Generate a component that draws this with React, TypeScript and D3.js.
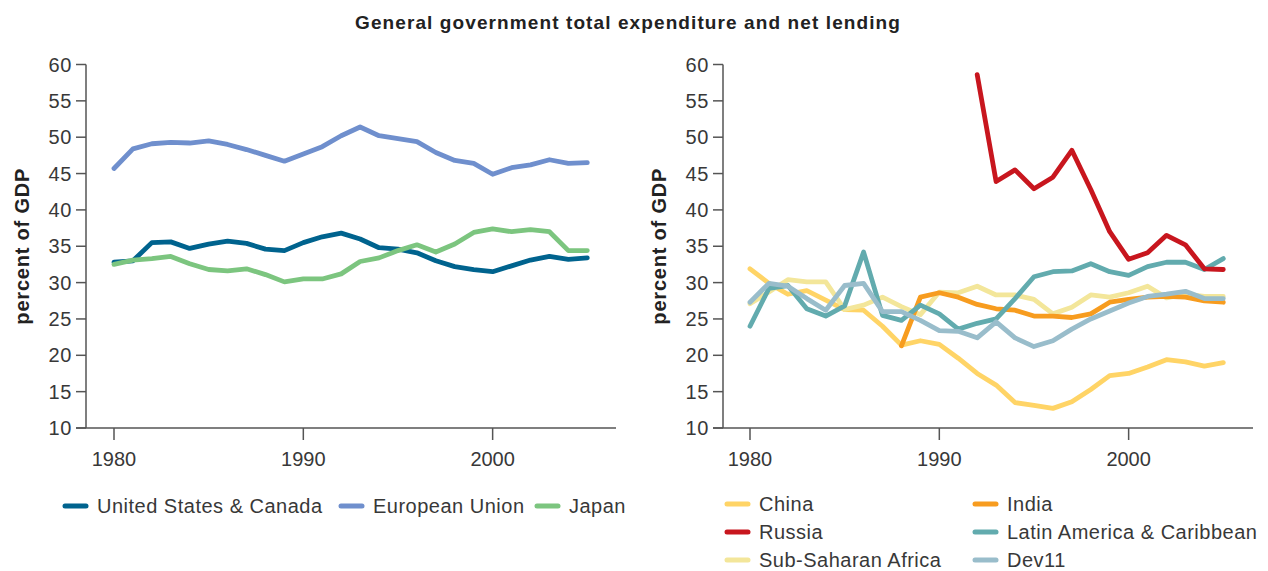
import React from "react";
import * as d3 from "d3";

const years = d3.range(1980, 2006);
const yTicks = [10, 15, 20, 25, 30, 35, 40, 45, 50, 55, 60];
const xTicks = [1980, 1990, 2000];

const usCanada = [32.8, 33.0, 35.5, 35.6, 34.7, 35.3, 35.7, 35.4, 34.6, 34.4, 35.5, 36.3, 36.8, 36.0, 34.8, 34.6, 34.1, 33.0, 32.2, 31.8, 31.5, 32.3, 33.1, 33.6, 33.2, 33.4];
const europeanUnion = [45.7, 48.4, 49.1, 49.3, 49.2, 49.5, 49.0, 48.3, 47.5, 46.7, 47.7, 48.7, 50.2, 51.4, 50.2, 49.8, 49.4, 47.9, 46.8, 46.4, 44.9, 45.8, 46.2, 46.9, 46.4, 46.5];
const japan = [32.5, 33.1, 33.3, 33.6, 32.6, 31.8, 31.6, 31.9, 31.1, 30.1, 30.5, 30.5, 31.2, 32.9, 33.4, 34.4, 35.2, 34.2, 35.3, 36.9, 37.4, 37.0, 37.3, 37.0, 34.4, 34.4];

const china = [31.9, 29.9, 28.4, 28.9, 27.6, 26.3, 26.2, 24.0, 21.4, 22.0, 21.5, 19.6, 17.5, 15.9, 13.5, 13.1, 12.7, 13.6, 15.3, 17.2, 17.5, 18.4, 19.4, 19.1, 18.5, 19.0];
const india = [null, null, null, null, null, null, null, null, 21.3, 28.0, 28.6, 28.0, 27.0, 26.4, 26.2, 25.4, 25.4, 25.2, 25.7, 27.3, 27.7, 28.0, 28.1, 28.0, 27.5, 27.3];
const russia = [null, null, null, null, null, null, null, null, null, null, null, null, 58.6, 43.9, 45.5, 42.9, 44.5, 48.2, 42.8, 37.0, 33.2, 34.1, 36.5, 35.2, 31.9, 31.8];
const latinAmerica = [24.0, 29.2, 29.6, 26.4, 25.4, 26.8, 34.2, 25.5, 24.8, 26.9, 25.7, 23.6, 24.4, 25.0, 27.8, 30.8, 31.5, 31.6, 32.6, 31.5, 31.0, 32.2, 32.8, 32.8, 31.8, 33.3];
const subSaharanAfrica = [27.1, 28.7, 30.4, 30.1, 30.1, 26.3, 26.9, 28.0, 26.7, 25.6, 28.7, 28.6, 29.5, 28.3, 28.3, 27.7, 25.7, 26.6, 28.3, 28.0, 28.6, 29.5, 27.9, 28.4, 28.1, 28.1];
const dev11 = [27.3, 29.9, 29.5, 27.8, 26.2, 29.6, 29.9, 26.0, 26.0, 24.8, 23.4, 23.3, 22.4, 24.6, 22.4, 21.2, 22.0, 23.6, 25.0, 26.1, 27.2, 28.1, 28.4, 28.8, 27.8, 27.8];

type Series = { name: string; color: string; values: (number | null)[] };

const leftSeries: Series[] = [
  { name: "United States & Canada", color: "#00638e", values: usCanada },
  { name: "European Union", color: "#6f8fcd", values: europeanUnion },
  { name: "Japan", color: "#7cc57f", values: japan },
];

const rightSeries: Series[] = [
  { name: "China", color: "#ffd466", values: china },
  { name: "Sub-Saharan Africa", color: "#f3e69a", values: subSaharanAfrica },
  { name: "India", color: "#f79c1f", values: india },
  { name: "Latin America & Caribbean", color: "#62abae", values: latinAmerica },
  { name: "Dev11", color: "#99bdcb", values: dev11 },
  { name: "Russia", color: "#c8161e", values: russia },
];

const rightLegendOrder = ["China", "India", "Russia", "Latin America & Caribbean", "Sub-Saharan Africa", "Dev11"];

const FONT = "'Liberation Sans', Arial, Helvetica, sans-serif";
const TEXT = "#383838";
const AXIS = "#555";

function Panel({ x0, axisX, series }: { x0: number; axisX: number; series: Series[] }) {
  const x = d3.scaleLinear().domain([1980, 2005]).range([x0, x0 + 473.3]);
  const y = d3.scaleLinear().domain([10, 60]).range([428, 64.5]);
  const line = d3
    .line<[number, number | null]>()
    .defined((d) => d[1] != null)
    .x((d) => x(d[0]))
    .y((d) => y(d[1] as number));
  return (
    <g>
      {yTicks.map((t) => (
        <g key={t}>
          <line x1={axisX - 10} x2={axisX} y1={y(t)} y2={y(t)} stroke={AXIS} strokeWidth={1.5} />
          <text x={axisX - 14} y={y(t)} dy="0.35em" textAnchor="end" fontSize={20} letterSpacing={0.6} fill={TEXT} fontFamily={FONT}>
            {t}
          </text>
        </g>
      ))}
      <line x1={axisX} x2={axisX} y1={y(60)} y2={y(10)} stroke={AXIS} strokeWidth={1.5} />
      <line x1={axisX - 10} x2={axisX + 530} y1={y(10)} y2={y(10)} stroke={AXIS} strokeWidth={1.5} />
      {xTicks.map((t) => (
        <g key={t}>
          <line x1={x(t)} x2={x(t)} y1={y(10)} y2={y(10) + 12} stroke={AXIS} strokeWidth={1.5} />
          <text x={x(t)} y={466} textAnchor="middle" fontSize={20} fill={TEXT} fontFamily={FONT}>
            {t}
          </text>
        </g>
      ))}
      <text
        transform={`translate(${axisX - 64},${y(35)}) rotate(-90)`}
        textAnchor="middle"
        dy="0.35em"
        fontSize={20}
        letterSpacing={0.8}
        fontWeight="bold"
        fill="#222"
        fontFamily={FONT}
      >
        percent of GDP
      </text>
      {series.map((s) => (
        <path
          key={s.name}
          d={line(years.map((yr, i) => [yr, s.values[i]] as [number, number | null])) || ""}
          fill="none"
          stroke={s.color}
          strokeWidth={4.8}
          strokeLinejoin="round"
          strokeLinecap="round"
        />
      ))}
    </g>
  );
}

function LegendItem({ x, y, color, label }: { x: number; y: number; color: string; label: string }) {
  return (
    <g>
      <line x1={x} x2={x + 21} y1={y} y2={y} stroke={color} strokeWidth={5} strokeLinecap="round" />
      <text x={x + 32} y={y} dy="0.35em" fontSize={20} letterSpacing={0.5} fill={TEXT} fontFamily={FONT}>
        {label}
      </text>
    </g>
  );
}

export default function App() {
  const leftLegendX = [65, 341, 537];
  const byName = new Map(rightSeries.map((s) => [s.name, s]));
  return (
    <svg width={1268} height={571} style={{ position: "absolute", left: 0, top: 0, background: "#fff" }}>
      <text x={628} y={22} dy="0.35em" textAnchor="middle" fontSize={19} letterSpacing={1.1} fontWeight="bold" fill="#222" fontFamily={FONT}>
        General government total expenditure and net lending
      </text>
      <Panel x0={114} axisX={86} series={leftSeries} />
      <Panel x0={750} axisX={723} series={rightSeries} />
      {leftSeries.map((s, i) => (
        <LegendItem key={s.name} x={leftLegendX[i]} y={506} color={s.color} label={s.name} />
      ))}
      {rightLegendOrder.map((n, i) => {
        const s = byName.get(n)!;
        const col = i % 2;
        const row = Math.floor(i / 2);
        return <LegendItem key={n} x={col === 0 ? 727 : 975} y={504 + row * 28} color={s.color} label={s.name} />;
      })}
    </svg>
  );
}
